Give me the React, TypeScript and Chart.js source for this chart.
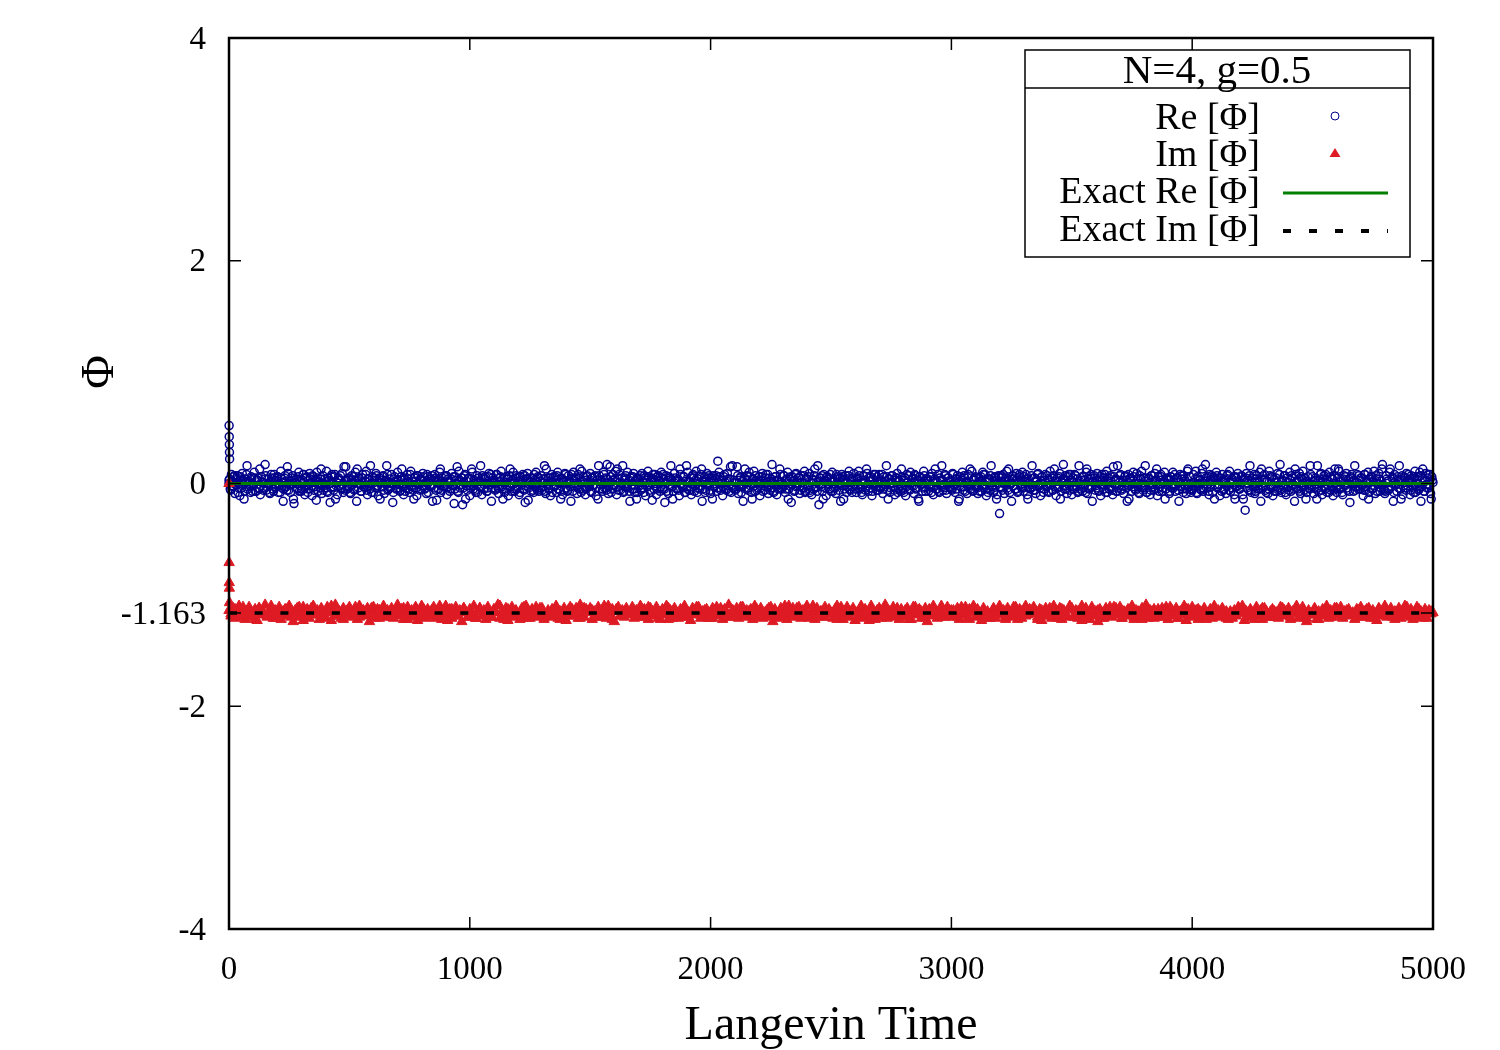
import React, { useEffect, useRef } from 'react';
import { Chart, registerables } from 'chart.js';

Chart.register(...registerables);

// ---------- data ----------
const X_TICKS = [0, 1000, 2000, 3000, 4000, 5000];
const Y_TICKS = [-4, -2, -1.163, 0, 2, 4];
const Y_TICK_LABELS = ['-4', '-2', '-1.163', '0', '2', '4'];
const X_MIN = 0;
const X_MAX = 5000;
const Y_MIN = -4;
const Y_MAX = 4;

const EXACT_RE = 0;
const EXACT_IM = -1.163;

const LEGEND_TITLE = 'N=4, g=0.5';
const SERIES_NAMES = ['Re [Φ]', 'Im [Φ]', 'Exact Re [Φ]', 'Exact Im [Φ]'];
const X_TITLE = 'Langevin Time';
const Y_TITLE = 'Φ';

// early (thermalisation) samples
const RE_START_TIMES = [0, 0.5, 1, 1.5, 2, 2.5];
const RE_START_VALUES = [0.0, 0.52, 0.42, 0.35, 0.28, 0.22];
const IM_START_TIMES = [0, 0.5, 1, 1.5, 2];
const IM_START_VALUES = [0.0, -0.71, -0.89, -0.94, -1.07];

// saved samples; values stored in units of 0.01
const VALUE_UNIT = 0.01;
const RE_STEP = 5;        // Re samples A at t = i*5, samples B at t = 2.5 + i*5
const RE_B_OFFSET = 2.5;
const IM_STEP_A = 5000 / 600; // Im samples A at t = i*IM_STEP_A
const IM_STEP_B = 5000 / 300; // Im samples B at t = (i+0.5)*IM_STEP_B

const RE_A_X100 = [
  3,-5,8,-2,6,-9,1,7,-4,-11,2,9,-1,-7,4,16,-3,0,-8,5,
  -2,10,-7,3,5,-5,-10,6,1,-4,17,-6,4,-1,-9,8,2,-7,5,-3,
  6,-8,0,11,-4,-16,5,2,-6,9,-1,-8,3,7,-18,1,4,-5,10,-2,
  -7,3,8,-10,5,-2,-5,9,1,-11,6,-3,2,10,-7,-1,4,-9,7,0,
  -4,11,-8,3,-17,6,1,-6,8,-2,-10,5,3,-4,9,-8,2,15,-5,4,
  -3,-9,7,1,-6,10,-16,4,5,-1,-7,8,-3,2,11,-10,4,-5,0,6,
  -8,3,9,-4,-11,5,1,-3,7,-9,3,16,-6,0,-4,8,-17,4,2,-5,
  10,-1,-7,6,3,-10,4,-4,8,1,-8,11,-3,-6,5,2,-11,7,-1,4,
  -5,9,-2,-4,-9,6,2,-2,4,-16,3,8,-6,1,-5,10,-8,5,0,-3,
  7,-10,4,2,-5,9,-1,-18,6,3,-7,11,-4,5,-19,1,8,-2,-6,5,
  -11,4,10,-5,0,-8,7,2,-3,16,-10,5,-1,6,-7,-4,9,1,-16,5,
  3,-6,8,-2,-9,5,11,-5,1,-8,6,4,-11,7,-3,0,10,-7,5,-5,
  2,-10,6,-1,8,-6,-17,4,9,-4,1,-7,5,-8,3,10,-6,5,-2,7,
  -6,4,16,-9,0,5,-5,-11,8,2,-3,6,-8,10,1,-6,5,-10,3,9,
  -4,-7,7,2,-16,5,10,-2,4,-9,8,-5,1,11,-6,3,-10,6,0,-3,
  9,-8,5,-1,7,-11,3,16,-5,2,-7,10,-4,5,17,-9,1,6,-5,8,
  -2,11,-10,4,8,-6,0,16,-7,5,-3,10,2,-16,6,-5,9,-8,3,-8,
  5,1,-6,9,-4,7,-11,3,11,-1,-8,5,8,-5,0,-10,6,2,-7,10,
  -5,4,-17,7,1,-9,5,16,-3,-7,9,2,-5,4,-11,8,0,-4,6,-8,
  16,10,-6,1,-10,7,5,-2,11,-8,4,-5,8,-16,2,6,-6,9,-1,5,
  -9,2,7,-3,5,-7,20,10,-4,3,-11,6,1,-6,9,-2,4,-8,16,-4,
  1,-5,15,-9,3,6,-3,-16,5,0,7,-6,10,-2,-8,4,11,-7,2,-4,
  6,-11,3,9,-2,-6,8,1,-9,5,-4,17,-7,2,6,-10,3,-1,8,-5,
  -3,7,-8,4,10,-5,0,-17,6,2,-6,9,-2,5,-9,7,1,-4,11,-7,
  4,-2,9,-6,-10,3,7,-4,1,16,-19,5,-3,-7,8,2,-11,6,-1,4,
  -7,10,-4,2,-9,6,4,-1,-16,8,3,-5,7,-8,1,11,-6,4,-3,9,
  -1,-8,5,11,-5,3,-10,7,0,-4,9,-7,2,6,-11,4,-2,8,-6,1,
  8,-4,2,-9,6,-1,16,-6,4,-8,1,7,-3,-10,5,9,-5,2,-7,6,
  -6,3,-11,8,1,-5,10,-2,5,-9,7,-4,3,-16,6,0,-7,11,-3,4,
  2,-7,6,-3,9,-10,4,1,-5,8,-8,3,16,-6,-1,7,-9,5,2,-4,
  -5,9,-1,-8,4,7,-16,2,-3,10,-6,5,1,-9,8,-2,-5,11,-7,3,
  6,-3,-9,5,2,-7,10,-4,8,-11,1,4,-6,16,-2,-8,6,3,-10,7,
  -27,5,-4,8,-9,2,11,-6,3,-1,-16,7,4,-5,9,-8,1,6,-3,10,
  -7,2,8,-10,4,-4,-1,16,-6,5,-9,3,9,-2,-11,6,0,-5,8,-3,
  4,-8,11,-1,-6,7,2,-11,5,-3,9,-7,1,17,-5,3,-9,6,-2,8,
  -10,5,-3,7,1,-8,16,-5,3,-7,6,-1,10,-9,4,-4,8,-16,2,5,
  -2,9,-6,4,-11,8,-1,5,-8,11,2,-5,7,-3,-10,6,3,-7,16,-4,
  7,-5,1,-9,6,3,-16,8,-2,5,-7,10,0,-6,9,-3,-9,4,11,-6,
  -4,16,-8,2,5,-10,7,-1,-6,9,3,-11,6,-3,8,-7,1,10,-5,4,
  3,-9,6,-4,10,-2,-7,5,1,-16,8,4,-5,7,-1,-9,11,-3,6,-8,
  -6,8,-2,11,-9,4,0,-5,9,-7,2,17,-4,6,-10,3,7,-8,5,-1,
  10,-4,5,-11,2,8,-6,3,-9,7,-2,11,-7,4,1,-10,6,-3,9,-5,
  -1,7,-10,4,-24,9,3,-6,16,-8,5,-2,-9,7,2,-5,10,-16,4,-3,
  8,-6,2,-9,11,-3,6,-11,4,1,-7,9,-4,17,-8,3,-2,7,-10,5,
  -3,10,-7,5,-1,-16,8,2,-5,9,-9,4,11,-6,1,-8,6,-4,16,-2,
  6,-9,3,-5,16,-7,1,9,-10,4,-3,8,-8,2,10,-6,5,-11,7,0,
  -8,5,11,-4,2,-10,7,-2,9,-6,4,-17,6,1,-7,16,-3,8,-5,3,
  5,-2,-11,8,-6,3,10,-8,1,6,-4,11,-9,4,-1,9,-7,2,17,-5,
  -9,7,2,-6,10,-3,5,-16,8,-1,-7,4,16,-5,3,-10,6,-4,9,-2,
  4,-10,7,1,-8,11,-3,6,-6,10,-16,5,2,-7,9,-4,8,-1,-9,6,
  1,
];

const RE_B_X100 = [
  4,-6,2,-3,7,-1,5,-8,0,6,-4,3,-14,1,8,-5,2,-2,6,-7,
  -1,5,-7,3,-4,13,-2,1,-6,4,7,-3,0,-8,2,5,-5,8,-1,3,
  6,-2,-8,4,1,-5,7,-3,15,-6,2,-1,5,-14,3,0,-4,6,-7,2,
  -5,8,1,-3,6,-8,0,4,-2,7,-6,3,-15,5,1,-4,13,-1,-6,4,
  2,-7,5,0,-4,8,-3,6,-14,1,4,-2,7,-5,-1,15,-6,3,-3,5,
  -8,3,-1,6,-5,2,13,-4,0,-7,5,1,-3,8,-6,4,-2,16,-8,0,
  5,-4,7,-2,1,-14,3,6,-6,2,-1,8,-5,4,-3,0,-8,6,1,-4,
  3,-1,-6,13,-3,5,-7,1,4,-5,8,-2,2,-14,6,-4,7,0,-6,3,
  -2,6,-5,1,8,-8,4,-3,7,-1,-4,5,-15,3,0,13,-6,2,-3,6,
  7,-3,1,-7,4,-2,6,-5,0,15,-8,3,-1,5,-4,7,-14,2,4,-2,
  -4,13,-2,3,-6,1,-8,5,2,-3,7,-5,4,0,-7,6,-1,8,-4,1,
  0,-5,8,-4,2,6,-3,-14,5,1,-6,4,-2,13,-7,3,0,-5,7,-3,
  6,-8,3,1,-5,7,-2,4,-15,2,5,-1,-6,8,-3,1,6,-7,2,-4,
  -3,4,-7,13,-1,-4,5,2,-8,6,-2,3,7,-5,0,-14,4,1,-6,8,
  2,-6,1,-3,8,-7,4,0,5,-4,-1,13,-8,2,6,-3,-5,7,1,-2,
  -7,5,-2,6,-4,3,-14,7,-1,2,-5,8,0,-6,4,-3,15,-8,3,-1,
  4,-3,13,-6,1,-2,5,-8,3,7,-4,0,-7,5,-1,6,-5,2,-14,4,
  -1,7,-4,2,-8,5,1,-3,6,-6,3,-15,4,8,-2,-5,7,0,-3,5,
  8,-5,0,-7,3,6,-2,4,-14,1,5,-4,2,-6,13,-1,-3,6,-8,2,
  -3,2,-6,5,-1,8,-7,3,0,-4,6,-2,13,-5,1,-8,4,-1,7,-6,
  5,-14,3,-2,7,-4,1,6,-6,0,-3,8,-5,2,4,-7,15,-2,-4,3,
  -6,1,7,-3,5,-8,2,-1,13,-5,3,-4,6,0,-14,4,-2,7,-6,1,
  2,-4,6,-7,0,5,-3,8,-1,-6,4,1,-8,6,-2,3,-5,13,-4,0,
  7,-2,-5,3,-14,4,6,-1,2,-7,8,-3,0,5,-6,1,-4,7,-8,4,
  -2,6,-8,1,4,-5,13,-3,-7,2,5,-1,7,-14,3,-4,6,0,-5,8,
  3,-7,2,-4,8,0,-6,5,-2,6,-14,4,1,-3,7,-5,2,-8,5,-1,
  -5,4,-1,7,-3,-8,3,1,-6,13,-2,5,-4,2,-7,8,0,-3,6,-6,
  1,-3,8,-5,2,-1,6,-14,4,-4,7,0,-6,3,5,-8,2,-2,13,-4,
  -8,5,-3,1,7,-6,0,4,-2,8,-5,3,-14,6,-1,2,-4,7,-7,3,
  4,-1,6,-8,2,-3,13,-5,1,-7,5,-2,3,-4,8,-6,0,5,-3,1,
  -6,8,-2,4,-5,1,-14,6,3,-3,7,-7,2,0,-4,13,-1,-6,4,-2,
  5,-4,1,-7,6,-2,8,-1,-5,3,-8,4,7,-3,2,-6,5,-14,1,6,
  -3,7,-6,2,-1,5,-4,13,-8,0,4,-2,6,-5,3,-7,8,-1,-4,2,
  6,-2,4,-14,1,-5,7,-3,5,-6,2,8,-1,-4,0,6,-8,3,-2,7,
  -7,3,-1,5,-6,13,-3,2,-4,6,-14,1,4,-2,7,-5,0,8,-6,3,
  1,-5,8,-3,4,-7,2,-1,6,-4,3,-8,13,-2,-5,5,-3,1,7,-6,
  -4,2,-7,6,-1,3,-5,8,0,-8,5,-3,2,-6,15,-1,4,-7,3,-2,
  8,-6,3,-2,7,-4,1,-14,5,2,-3,6,-5,0,4,-8,7,-1,-4,5,
  -2,5,-8,4,0,-6,7,-3,2,-5,13,-1,-7,3,6,-4,1,-14,5,-1,
  3,-7,6,-1,-4,8,-2,5,-6,1,-3,7,-8,4,2,-5,13,-3,0,-6,
  -5,1,4,-8,6,-2,3,-6,13,-4,0,5,-1,-7,8,-3,2,6,-14,4,
  7,-3,-1,5,-7,2,-5,4,-2,8,-6,1,3,-4,6,-14,5,-2,1,-5,
  -1,6,-14,3,5,-4,0,7,-6,2,-3,8,-7,4,-2,1,-5,13,-4,3,
  4,-8,2,-5,7,-1,6,-3,-7,5,1,-4,8,-6,3,-2,7,-8,2,-3,
  -6,3,7,-2,-5,13,-4,1,4,-7,6,-1,-3,5,-14,2,0,-5,8,-1,
  2,-4,5,-14,3,-2,8,-6,1,7,-5,3,-1,-8,6,-3,4,-6,13,-4,
  -3,13,-5,2,-8,4,-1,6,-4,0,-7,5,8,-2,3,-6,1,-3,7,-5,
  5,-1,-6,8,-3,1,-14,4,6,-5,2,-2,7,-7,0,4,-4,13,-1,-6,
  -7,4,2,-5,13,-3,5,-8,1,-1,6,-4,3,-14,7,-2,5,-6,2,8,
  1,-6,4,-2,6,-8,3,0,-5,7,-3,13,-7,2,-1,5,-4,8,-14,3,
];

const IM_A_X100 = [
  -114,-119,-112,-121,-116,-110,-118,-113,-122,-115,-111,-120,-117,-113,-123,-112,-118,-115,-109,-120,
  -116,-112,-121,-114,-118,-111,-122,-115,-113,-119,-110,-117,-124,-114,-112,-120,-116,-111,-119,-113,
  -121,-115,-110,-118,-114,-122,-112,-117,-120,-111,-116,-123,-113,-109,-119,-115,-121,-112,-118,-114,
  -111,-120,-116,-113,-122,-110,-117,-114,-119,-112,-124,-115,-111,-118,-113,-121,-116,-110,-120,-114,
  -117,-112,-121,-115,-109,-119,-113,-122,-116,-111,-118,-114,-120,-112,-123,-115,-110,-117,-121,-113,
  -119,-114,-111,-120,-116,-112,-122,-115,-110,-118,-113,-121,-117,-111,-119,-114,-124,-112,-116,-120,
  -113,-118,-110,-121,-115,-112,-119,-114,-122,-111,-117,-120,-113,-116,-109,-121,-115,-118,-112,-123,
  -115,-111,-120,-114,-117,-122,-112,-119,-110,-116,-121,-113,-118,-111,-120,-115,-112,-122,-117,-114,
  -120,-113,-116,-110,-121,-115,-118,-112,-123,-114,-111,-119,-116,-112,-121,-109,-117,-120,-113,-115,
  -112,-122,-115,-118,-111,-120,-114,-116,-121,-110,-117,-113,-124,-115,-111,-119,-114,-120,-112,-117,
  -118,-111,-121,-114,-116,-110,-120,-113,-117,-122,-112,-115,-119,-111,-121,-116,-113,-118,-110,-122,
  -114,-119,-112,-117,-121,-113,-115,-110,-120,-116,-123,-112,-118,-114,-111,-121,-115,-119,-113,-116,
  -121,-112,-117,-111,-119,-115,-122,-113,-116,-109,-120,-114,-118,-112,-121,-116,-111,-119,-114,-120,
  -113,-117,-110,-120,-115,-112,-121,-116,-114,-119,-111,-124,-113,-117,-120,-112,-115,-110,-122,-114,
  -118,-112,-120,-115,-111,-121,-114,-117,-110,-119,-116,-113,-122,-112,-118,-115,-120,-111,-117,-114,
  -116,-121,-113,-110,-119,-114,-122,-117,-111,-120,-115,-112,-123,-116,-118,-110,-121,-113,-119,-115,
  -110,-117,-122,-114,-112,-120,-116,-109,-121,-115,-118,-111,-119,-114,-122,-113,-117,-120,-112,-116,
  -122,-115,-111,-118,-113,-121,-116,-112,-124,-114,-119,-110,-117,-121,-115,-112,-120,-118,-111,-116,
  -114,-120,-117,-112,-122,-111,-118,-115,-121,-113,-116,-110,-120,-114,-119,-123,-112,-117,-115,-121,
  -119,-113,-121,-116,-110,-118,-114,-122,-112,-117,-120,-115,-111,-119,-113,-121,-116,-110,-118,-114,
  -117,-111,-115,-120,-113,-123,-116,-112,-119,-114,-121,-110,-118,-115,-112,-122,-114,-117,-120,-113,
  -112,-119,-114,-121,-116,-110,-120,-113,-117,-122,-111,-118,-115,-124,-113,-116,-121,-112,-119,-115,
  -120,-116,-112,-118,-111,-121,-115,-119,-113,-117,-110,-122,-114,-120,-116,-112,-118,-109,-121,-114,
  -115,-121,-118,-113,-120,-112,-117,-111,-122,-116,-114,-119,-112,-121,-115,-118,-110,-123,-113,-117,
  -111,-118,-114,-122,-115,-119,-112,-120,-116,-113,-121,-110,-117,-114,-120,-112,-119,-115,-122,-116,
  -121,-114,-119,-112,-117,-110,-123,-115,-118,-113,-120,-116,-111,-119,-114,-122,-112,-117,-120,-115,
  -113,-120,-116,-121,-111,-118,-114,-119,-112,-122,-115,-117,-110,-121,-116,-113,-120,-124,-114,-118,
  -118,-112,-122,-115,-119,-113,-117,-110,-121,-114,-120,-116,-112,-118,-111,-121,-115,-119,-113,-117,
  -116,-122,-113,-119,-111,-120,-115,-118,-112,-121,-114,-117,-123,-113,-119,-115,-110,-120,-116,-112,
  -120,-115,-118,-112,-121,-114,-110,-119,-116,-113,-122,-117,-111,-120,-115,-118,-113,-121,-114,-117,
  -116,
];

const IM_B_X100 = [
  -117,-113,-120,-111,-118,-115,-122,-112,-116,-119,-110,-121,-114,-117,-113,-120,-116,-111,-123,-115,
  -112,-118,-115,-121,-113,-110,-119,-116,-122,-114,-117,-111,-120,-115,-118,-112,-121,-114,-116,-119,
  -120,-114,-117,-112,-122,-116,-111,-119,-113,-118,-115,-121,-110,-117,-123,-113,-119,-116,-112,-120,
  -115,-121,-112,-118,-114,-120,-116,-110,-122,-113,-119,-115,-117,-111,-121,-114,-118,-112,-120,-116,
  -118,-111,-122,-115,-119,-113,-117,-121,-112,-116,-114,-120,-118,-110,-116,-122,-113,-119,-115,-117,
  -113,-119,-116,-120,-111,-117,-114,-122,-115,-112,-121,-116,-119,-113,-120,-115,-111,-118,-114,-121,
  -121,-116,-112,-117,-120,-114,-119,-111,-118,-115,-122,-113,-116,-120,-112,-117,-121,-114,-119,-110,
  -116,-112,-119,-114,-121,-110,-118,-115,-120,-113,-117,-122,-111,-116,-119,-114,-120,-112,-117,-123,
  -119,-115,-121,-113,-116,-120,-112,-118,-114,-122,-111,-117,-115,-121,-113,-118,-116,-110,-120,-114,
  -114,-120,-117,-111,-122,-115,-113,-119,-116,-121,-112,-118,-114,-120,-117,-111,-122,-115,-119,-113,
  -117,-122,-114,-119,-112,-116,-121,-113,-118,-110,-120,-115,-123,-112,-117,-119,-114,-121,-116,-111,
  -111,-118,-121,-116,-114,-120,-115,-122,-112,-119,-113,-117,-120,-114,-111,-116,-121,-118,-113,-119,
  -120,-113,-116,-122,-117,-112,-119,-114,-121,-115,-118,-111,-116,-120,-114,-122,-117,-112,-115,-120,
  -115,-119,-112,-118,-120,-114,-116,-111,-121,-117,-113,-122,-115,-118,-120,-112,-116,-119,-114,-117,
  -118,-114,-120,-113,-116,-121,-112,-117,-115,-119,-122,-114,-118,-111,-120,-116,-113,-121,-117,-115,
];

// ---------- styles ----------
const FONT = "'Liberation Serif', 'DejaVu Serif', serif";
const BLUE = '#00008b';
const RED = '#de1b24';
const GREEN = '#007f00';
const BLACK = '#000000';

const rePoints = [
  ...RE_START_TIMES.map((t, i) => ({ x: t, y: RE_START_VALUES[i] })),
  ...RE_A_X100.map((v, i) => ({ x: i * RE_STEP, y: v * VALUE_UNIT })),
  ...RE_B_X100.map((v, i) => ({ x: RE_B_OFFSET + i * RE_STEP, y: v * VALUE_UNIT })),
];
const imPoints = [
  ...IM_START_TIMES.map((t, i) => ({ x: t, y: IM_START_VALUES[i] })),
  ...IM_A_X100.map((v, i) => ({ x: i * IM_STEP_A, y: v * VALUE_UNIT })),
  ...IM_B_X100.map((v, i) => ({ x: (i + 0.5) * IM_STEP_B, y: v * VALUE_UNIT })),
];

const framePlugin = {
  id: 'gnuplotFrame',
  afterDatasetsDraw(chart: any) {
    const { ctx, chartArea: a, scales } = chart;
    const xs = scales.x;
    const ys = scales.y;
    ctx.save();
    // frame
    ctx.strokeStyle = BLACK;
    ctx.lineWidth = 2.5;
    ctx.setLineDash([]);
    ctx.strokeRect(a.left, a.top, a.right - a.left, a.bottom - a.top);
    // inward ticks, mirrored
    const TL = 12;
    ctx.lineWidth = 1.5;
    ctx.beginPath();
    X_TICKS.forEach((v) => {
      const px = xs.getPixelForValue(v);
      ctx.moveTo(px, a.bottom);
      ctx.lineTo(px, a.bottom - TL);
      ctx.moveTo(px, a.top);
      ctx.lineTo(px, a.top + TL);
    });
    Y_TICKS.forEach((v) => {
      const py = ys.getPixelForValue(v);
      ctx.moveTo(a.left, py);
      ctx.lineTo(a.left + TL, py);
      ctx.moveTo(a.right, py);
      ctx.lineTo(a.right - TL, py);
    });
    ctx.stroke();

    // axis titles
    ctx.fillStyle = BLACK;
    ctx.font = `48px ${FONT}`;
    ctx.textAlign = 'center';
    ctx.textBaseline = 'middle';
    ctx.fillText(X_TITLE, (a.left + a.right) / 2, 1026);
    ctx.save();
    ctx.translate(101, 372);
    ctx.rotate(-Math.PI / 2);
    ctx.font = `46px ${FONT}`;
    ctx.fillText(Y_TITLE, 0, 0);
    ctx.restore();

    // legend
    const bx = a.right - 408;
    const by = a.top + 12;
    const bw = 385;
    const bh = 207;
    ctx.fillStyle = '#ffffff';
    ctx.fillRect(bx, by, bw, bh);
    ctx.strokeStyle = BLACK;
    ctx.lineWidth = 1.5;
    ctx.strokeRect(bx, by, bw, bh);
    ctx.beginPath();
    ctx.moveTo(bx, by + 38);
    ctx.lineTo(bx + bw, by + 38);
    ctx.stroke();
    ctx.fillStyle = BLACK;
    ctx.font = `41px ${FONT}`;
    ctx.textAlign = 'center';
    ctx.fillText(LEGEND_TITLE, bx + 192, by + 22);

    ctx.font = `38px ${FONT}`;
    ctx.textAlign = 'right';
    const rowY = [by + 69, by + 106, by + 143, by + 181];
    SERIES_NAMES.forEach((n, i) => ctx.fillText(n, bx + 235, rowY[i]));
    const sx = bx + 310;
    // circle
    ctx.strokeStyle = BLUE;
    ctx.lineWidth = 1;
    ctx.beginPath();
    ctx.arc(sx, rowY[0] - 3, 4, 0, Math.PI * 2);
    ctx.stroke();
    // triangle
    ctx.fillStyle = RED;
    ctx.beginPath();
    ctx.moveTo(sx, rowY[1] - 8);
    ctx.lineTo(sx + 5.5, rowY[1] + 1);
    ctx.lineTo(sx - 5.5, rowY[1] + 1);
    ctx.closePath();
    ctx.fill();
    // green line
    ctx.strokeStyle = GREEN;
    ctx.lineWidth = 3;
    ctx.beginPath();
    ctx.moveTo(bx + 258, rowY[2]);
    ctx.lineTo(bx + 363, rowY[2]);
    ctx.stroke();
    // dashed black
    ctx.strokeStyle = BLACK;
    ctx.lineWidth = 4;
    ctx.setLineDash([8, 18]);
    ctx.beginPath();
    ctx.moveTo(bx + 258, rowY[3]);
    ctx.lineTo(bx + 363, rowY[3]);
    ctx.stroke();
    ctx.restore();
  },
};

export default function App() {
  const ref = useRef<HTMLCanvasElement | null>(null);

  useEffect(() => {
    if (!ref.current) return;
    const chart = new Chart(ref.current, {
      type: 'scatter',
      data: {
        datasets: [
          {
            label: SERIES_NAMES[3],
            data: [
              { x: X_MIN, y: EXACT_IM },
              { x: X_MAX, y: EXACT_IM },
            ],
            showLine: true,
            borderColor: BLACK,
            borderWidth: 3.5,
            borderDash: [8, 17.7],
            pointRadius: 0,
            order: 1,
          },
          {
            label: SERIES_NAMES[2],
            data: [
              { x: X_MIN, y: EXACT_RE },
              { x: X_MAX, y: EXACT_RE },
            ],
            showLine: true,
            borderColor: GREEN,
            borderWidth: 3,
            pointRadius: 0,
            order: 2,
          },
          {
            label: SERIES_NAMES[1],
            data: imPoints,
            pointStyle: 'triangle',
            pointRadius: 6,
            backgroundColor: RED,
            borderColor: RED,
            borderWidth: 1,
            clip: false as any,
            order: 3,
          },
          {
            label: SERIES_NAMES[0],
            data: rePoints,
            pointStyle: 'circle',
            pointRadius: 4,
            backgroundColor: 'rgba(0,0,0,0)',
            borderColor: BLUE,
            borderWidth: 1.5,
            clip: false as any,
            order: 4,
          },
        ],
      },
      options: {
        responsive: false,
        animation: false,
        events: [],
        layout: { padding: { left: 0, right: 67, top: 38, bottom: 0 } },
        plugins: {
          legend: { display: false },
          tooltip: { enabled: false },
          title: { display: false },
        },
        scales: {
          x: {
            type: 'linear',
            min: X_MIN,
            max: X_MAX,
            grid: { display: false, drawTicks: false },
            border: { display: false },
            afterBuildTicks: (s: any) => {
              s.ticks = X_TICKS.map((v) => ({ value: v }));
            },
            afterFit: (s: any) => {
              s.height = 121;
              s.paddingLeft = 0;
              s.paddingRight = 0;
            },
            ticks: {
              padding: 22,
              color: BLACK,
              font: { family: FONT, size: 33 },
              maxRotation: 0,
              autoSkip: false,
              callback: (v: any) => String(v),
            },
          },
          y: {
            type: 'linear',
            min: Y_MIN,
            max: Y_MAX,
            grid: { display: false, drawTicks: false },
            border: { display: false },
            afterBuildTicks: (s: any) => {
              s.ticks = Y_TICKS.map((v) => ({ value: v }));
            },
            afterFit: (s: any) => {
              s.width = 229;
              s.paddingTop = 0;
              s.paddingBottom = 0;
            },
            ticks: {
              padding: 23,
              labelOffset: 2,
              color: BLACK,
              font: { family: FONT, size: 33 },
              autoSkip: false,
              callback: (v: any) => {
                const i = Y_TICKS.indexOf(Number(v));
                return i >= 0 ? Y_TICK_LABELS[i] : '';
              },
            },
          },
        },
      },
      plugins: [framePlugin],
    });
    return () => chart.destroy();
  }, []);

  return (
    <div style={{ position: 'absolute', left: 0, top: 0, width: 1500, height: 1050, background: '#fff' }}>
      <canvas ref={ref} width={1500} height={1050} style={{ width: 1500, height: 1050 }} />
    </div>
  );
}
